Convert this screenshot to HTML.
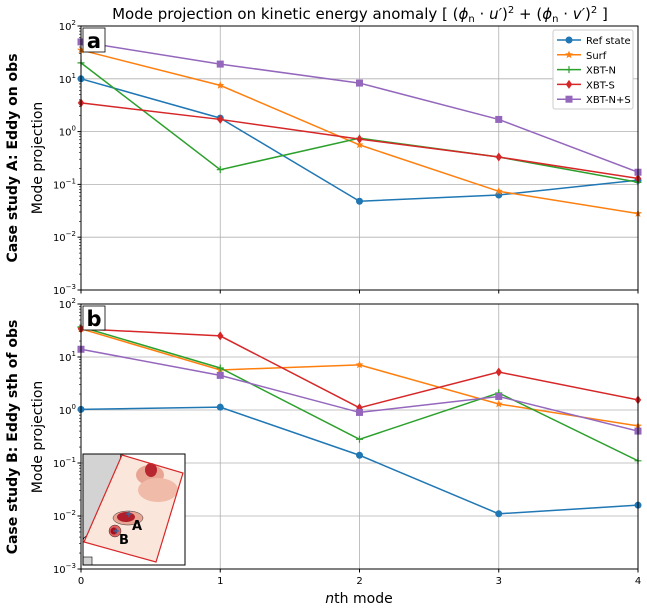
<!DOCTYPE html>
<html><head><meta charset="utf-8"><style>
body{margin:0;background:#fff;}
svg{font-family:"DejaVu Sans","Liberation Sans",sans-serif;}
</style></head><body>
<svg id="chart" width="647" height="609" xmlns="http://www.w3.org/2000/svg">
<text x="360" y="19" font-size="15" text-anchor="middle">Mode projection on kinetic energy anomaly [ (<tspan font-style="italic">ϕ</tspan><tspan font-size="10" dy="3">n</tspan><tspan dy="-3"> · </tspan><tspan font-style="italic">u′</tspan>)<tspan font-size="10" dy="-6">2</tspan><tspan dy="6"> + (</tspan><tspan font-style="italic">ϕ</tspan><tspan font-size="10" dy="3">n</tspan><tspan dy="-3"> · </tspan><tspan font-style="italic">v′</tspan>)<tspan font-size="10" dy="-6">2</tspan><tspan dy="6"> ]</tspan></text>
<g id="pa"></g>
<g id="pb"></g>
<text transform="translate(17,158) rotate(-90)" font-size="14" font-weight="bold" text-anchor="middle">Case study A: Eddy on obs</text>
<text transform="translate(42,158) rotate(-90)" font-size="14" text-anchor="middle">Mode projection</text>
<text transform="translate(17,437) rotate(-90)" font-size="14" font-weight="bold" text-anchor="middle">Case study B: Eddy sth of obs</text>
<text transform="translate(42,437) rotate(-90)" font-size="14" text-anchor="middle">Mode projection</text>
<text x="359" y="603" font-size="14" text-anchor="middle"><tspan font-style="italic">n</tspan>th mode</text>
</svg>
<script>
const modes=[0,1,2,3,4];
const seriesNames=["Ref state","Surf","XBT-N","XBT-S","XBT-N+S"];
const colors=["#1f77b4","#ff7f0e","#2ca02c","#d62728","#9467bd"];
const aRef=[10,1.8,0.048,0.063,0.12];
const aSurf=[35,7.5,0.56,0.074,0.028];
const aXbtN=[20,0.19,0.75,0.33,0.11];
const aXbtS=[3.5,1.7,0.72,0.33,0.13];
const aXbtNS=[50,19,8.3,1.7,0.17];
const bRef=[1.03,1.13,0.14,0.011,0.016];
const bSurf=[34,5.7,7.1,1.3,0.5];
const bXbtN=[37,6.2,0.28,2.1,0.11];
const bXbtS=[34,25,1.1,5.2,1.55];
const bXbtNS=[14,4.5,0.9,1.8,0.4];
const yExps=[-3,-2,-1,0,1,2];
const xTickLabels=["0","1","2","3","4"];
const NS="http://www.w3.org/2000/svg";
const X0=81,X1=638;
function mk(t,a,p){const e=document.createElementNS(NS,t);for(const k in a)e.setAttribute(k,a[k]);(p||document.getElementById('chart')).appendChild(e);return e;}
function xs(v){return X0+(v-0)/(4-0)*(X1-X0);}
function marker(g,i,x,y,c){
 let m;
 if(i==0)m=mk('circle',{cx:x,cy:y,r:3.5,fill:c},g);
 else if(i==1){let p=[];for(let k=0;k<10;k++){const r=k%2?1.8:4.2,a=-Math.PI/2+k*Math.PI/5;p.push((x+r*Math.cos(a)).toFixed(1)+','+(y+r*Math.sin(a)).toFixed(1));}m=mk('polygon',{points:p.join(' '),fill:c},g);}
 else if(i==2)m=mk('path',{d:`M${x-3.5},${y}H${x+3.5}M${x},${y-3.5}V${y+3.5}`,stroke:c,'stroke-width':1.2},g);
 else if(i==3)m=mk('polygon',{points:`${x},${y-4.5} ${x+3.2},${y} ${x},${y+4.5} ${x-3.2},${y}`,fill:c},g);
 else m=mk('rect',{x:x-3.5,y:y-3.5,width:7,height:7,fill:c},g);
 return m;
}
function panel(gid,top,bot,data,letter,showX){
 const g=document.getElementById(gid);
 const ys=v=>bot-(Math.log10(v)+3)/5*(bot-top);
 yExps.forEach(e=>{const l=mk('line',{x1:X0,x2:X1,y1:ys(Math.pow(10,e)),y2:ys(Math.pow(10,e)),stroke:'#b0b0b0','stroke-width':0.8},g);
  });
 modes.forEach(m=>{const l=mk('line',{x1:xs(m),x2:xs(m),y1:top,y2:bot,stroke:'#b0b0b0','stroke-width':0.8},g);
  });
 yExps.forEach(e=>{const y=ys(Math.pow(10,e));mk('line',{x1:X0-3.5,x2:X0,y1:y,y2:y,stroke:'#000'},g);
  const t=mk('text',{x:X0-5,y:y+4,'font-size':10,'text-anchor':'end'},g);t.textContent='10';
  
  const s=mk('tspan',{'font-size':7,dy:-5},t);s.textContent=e<0?'−'+(-e):''+e;
  if(e<2)for(let k=2;k<10;k++){const yy=ys(k*Math.pow(10,e));mk('line',{x1:X0-2,x2:X0,y1:yy,y2:yy,stroke:'#000','stroke-width':0.6},g);}
 });
 modes.forEach((m,i)=>{mk('line',{x1:xs(m),x2:xs(m),y1:bot,y2:bot+3.5,stroke:'#000'},g);
  if(showX){const t=mk('text',{x:xs(m),y:bot+15,'font-size':10,'text-anchor':'middle'},g);t.textContent=xTickLabels[i];
  }});
 data.forEach((d,i)=>{
  const pts=modes.map((m,j)=>xs(m)+','+ys(d[j])).join(' ');
  const l=mk('polyline',{points:pts,fill:'none',stroke:colors[i],'stroke-width':1.5},g);
  
  
  modes.forEach((m,j)=>{const mm=marker(g,i,xs(m),ys(d[j]),colors[i]);
   });
 });
 const fr=mk('rect',{x:X0,y:top,width:X1-X0,height:bot-top,fill:'none',stroke:'#000','stroke-width':1},g);
 
 const lb=mk('rect',{x:83,y:top+2,width:22,height:24,fill:'#fff',stroke:'#000','stroke-width':0.8},g);
 
 const lt=mk('text',{x:94,y:top+22,'font-size':21,'font-weight':'bold','text-anchor':'middle'},g);lt.textContent=letter;
 
}
panel('pa',26,290,[aRef,aSurf,aXbtN,aXbtS,aXbtNS],'a',false);
panel('pb',304,569,[bRef,bSurf,bXbtN,bXbtS,bXbtNS],'b',true);
const lg=mk('g',{});

mk('rect',{x:553,y:30,width:80,height:79,rx:2,fill:'#fff',stroke:'#ccc'},lg);
seriesNames.forEach((n,i)=>{const y=40+i*14.8;
 mk('line',{x1:557,x2:581,y1:y,y2:y,stroke:colors[i],'stroke-width':1.5},lg);
 marker(lg,i,569,y,colors[i]);
 const t=mk('text',{x:586,y:y+4,'font-size':10},lg);t.textContent=n;
 });
const ins=mk('g',{});

mk('rect',{x:83,y:454,width:102,height:111,fill:'#fff'},ins);
mk('path',{d:'M83,454 H121 C118,470 123,480 115,495 C112,505 103,510 100,520 C96,528 90,533 84,538 L83,540 Z',fill:'#d3d3d3',stroke:'#000','stroke-width':0.8},ins);
mk('path',{d:'M122,455 L183,473 L156,562 L84,542 Z',fill:'#fbe6dc',stroke:'none'},ins);
mk('ellipse',{cx:150,cy:475,rx:14,ry:10,fill:'#e8a593'},ins);
mk('ellipse',{cx:151,cy:470,rx:6,ry:7,fill:'#b8262f'},ins);
mk('ellipse',{cx:158,cy:490,rx:20,ry:12,fill:'#f0bba8'},ins);
mk('ellipse',{cx:128,cy:518,rx:15,ry:7,fill:'#e8a593',stroke:'#333','stroke-width':0.5},ins);
mk('ellipse',{cx:126,cy:517,rx:9,ry:5,fill:'#b01e2c'},ins);
mk('circle',{cx:115,cy:531,r:6,fill:'#e06060',stroke:'#333','stroke-width':0.5},ins);
mk('circle',{cx:114,cy:531,r:3.5,fill:'#a01020'},ins);
mk('polygon',{points:'122,455 183,473 156,562 84,542',fill:'none',stroke:'#d62728','stroke-width':1.2},ins);
mk('path',{d:'M126,514h6M129,511v6M113,531h6M116,528v6',stroke:'#1f77b4','stroke-width':1},ins);
const tA=mk('text',{x:132,y:530,'font-size':13,'font-weight':'bold'},ins);tA.textContent='A';

const tB=mk('text',{x:119,y:544,'font-size':13,'font-weight':'bold'},ins);tB.textContent='B';

mk('rect',{x:83,y:557,width:9,height:8,fill:'#d3d3d3',stroke:'#000','stroke-width':0.6},ins);
mk('rect',{x:83,y:454,width:102,height:111,fill:'none',stroke:'#000','stroke-width':1},ins);
</script>
</body></html>
